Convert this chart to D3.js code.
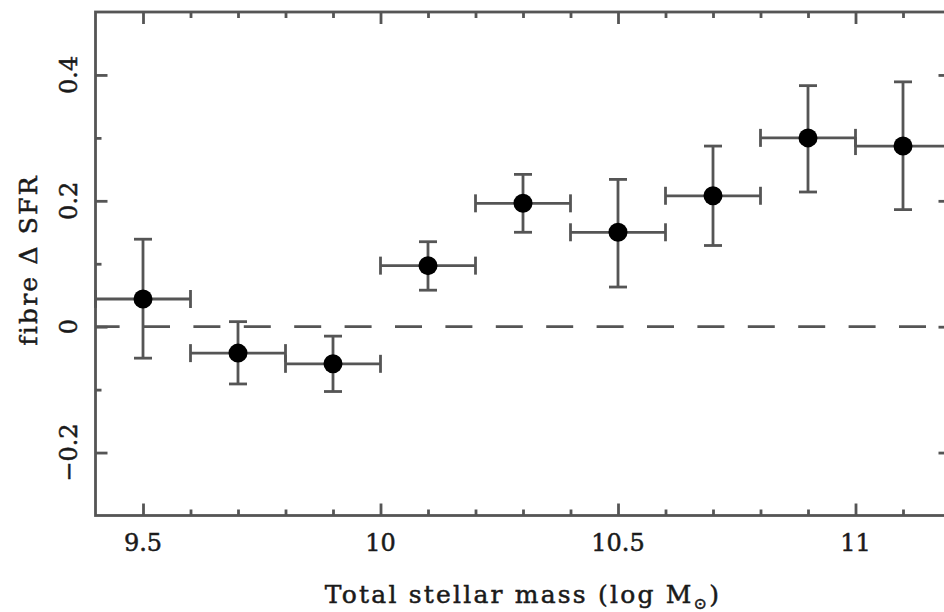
<!DOCTYPE html>
<html>
<head>
<meta charset="utf-8">
<script src="https://cdn.jsdelivr.net/npm/d3@7"></script>
<style>
  html, body { margin: 0; padding: 0; background: #fff; }
  svg { display: block; }
  text { font-family: "DejaVu Serif", serif; fill: #1a1a1a; stroke: #1a1a1a; stroke-width: 0.5px; }
</style>
</head>
<body>
<div id="chart"></div>
<script>
// valeurs
let masses = [9.5, 9.7, 9.9, 10.1, 10.3, 10.5, 10.7, 10.9, 11.1];
let deltaSfr = [0.044, -0.042, -0.059, 0.097, 0.196, 0.150, 0.208, 0.300, 0.287];
let errHaut = [0.139, 0.008, -0.015, 0.135, 0.242, 0.234, 0.287, 0.383, 0.389];
let errBas = [-0.050, -0.091, -0.103, 0.058, 0.150, 0.063, 0.129, 0.214, 0.186];
let demiLargeur = [0.1, 0.1, 0.1, 0.1, 0.1, 0.1, 0.1, 0.1, 0.1];

// graduations
let xMajeur = [9.5, 10, 10.5, 11];
let xMineur = [9.6, 9.7, 9.8, 9.9, 10.1, 10.2, 10.3, 10.4, 10.6, 10.7, 10.8, 10.9, 11.1];
let yMajeur = [-0.2, 0, 0.2, 0.4];
let yMineur = [-0.1, 0.1, 0.3];
let xLabels = ["9.5", "10", "10.5", "11"];
let yLabels = ["\u22120.2", "0", "0.2", "0.4"];

let width = 944;
let height = 612;

// bords du cadre (le bord droit sort de l'image)
let gauche = 95.5, droite = 950.5, haut = 12, bas = 515.5;

let x = d3.scaleLinear().domain([9.4, 11.2]).range([gauche, droite]);
let y = d3.scaleLinear().domain([-0.3, 0.5]).range([bas, haut]);

let svg = d3
  .select("#chart")
  .append("svg")
  .attr("width", width)
  .attr("height", height);

let gris = "#555";
let trait = 2.8;

// ligne zéro en tirets
svg
  .append("line")
  .attr("x1", gauche)
  .attr("x2", droite)
  .attr("y1", y(0))
  .attr("y2", y(0))
  .style("stroke", gris)
  .style("stroke-width", trait)
  .style("stroke-dasharray", "27,23.4")
  .style("stroke-dashoffset", 2.9);

// axes : graduations vers l'intérieur sur les quatre côtés
function styleAxe(g) {
  g.select(".domain").remove();
  g.selectAll(".tick line").style("stroke", gris).style("stroke-width", trait);
}

function ajouterAxe(axe, valeurs, taille, tx, ty) {
  let g = svg
    .append("g")
    .attr("transform", "translate(" + tx + "," + ty + ")")
    .call(axe.tickValues(valeurs).tickSize(taille).tickFormat(""));
  styleAxe(g);
  return g;
}

ajouterAxe(d3.axisBottom(x), xMajeur, -12, 0, bas);
ajouterAxe(d3.axisBottom(x), xMineur, -6, 0, bas);
ajouterAxe(d3.axisTop(x), xMajeur, -12, 0, haut);
ajouterAxe(d3.axisTop(x), xMineur, -6, 0, haut);
ajouterAxe(d3.axisLeft(y), yMajeur, -12, gauche, 0);
ajouterAxe(d3.axisLeft(y), yMineur, -6, gauche, 0);
ajouterAxe(d3.axisRight(y), yMajeur, -12, droite, 0);
ajouterAxe(d3.axisRight(y), yMineur, -6, droite, 0);

// cadre
svg
  .append("rect")
  .attr("x", gauche)
  .attr("y", haut)
  .attr("width", droite - gauche)
  .attr("height", bas - haut)
  .style("fill", "none")
  .style("stroke", gris)
  .style("stroke-width", trait);

// étiquettes des graduations
svg
  .selectAll(".xlab")
  .data(xMajeur)
  .enter()
  .append("text")
  .attr("class", "xlab")
  .attr("x", (d) => x(d))
  .attr("y", 551)
  .style("text-anchor", "middle")
  .style("font-size", "24px")
  .text((d, i) => xLabels[i]);

svg
  .selectAll(".ylab")
  .data(yMajeur)
  .enter()
  .append("text")
  .attr("class", "ylab")
  .attr("transform", (d) => "translate(77," + y(d) + ") rotate(-90)")
  .style("text-anchor", "middle")
  .style("font-size", "24px")
  .text((d, i) => yLabels[i]);

// titres des axes
let titreX = svg
  .append("text")
  .attr("x", (gauche + droite) / 2)
  .attr("y", 603)
  .style("text-anchor", "middle")
  .style("font-size", "25px")
  .style("letter-spacing", "2.2px");
titreX.append("tspan").text("Total stellar mass (log M");
titreX
  .append("tspan")
  .attr("dy", 6)
  .style("font-size", "16px")
  .text("\u2299");
titreX.append("tspan").attr("dy", -6).text(")");

svg
  .append("text")
  .attr("transform", "translate(37,260) rotate(-90)")
  .style("text-anchor", "middle")
  .style("font-size", "25px")
  .style("letter-spacing", "2.2px")
  .text("fibre \u0394 SFR");

// barres d'erreur
let cap = 9;
masses.forEach((m, i) => {
  let g = svg.append("g");
  let cx = x(m);
  let cy = y(deltaSfr[i]);
  let x0 = x(m - demiLargeur[i]);
  let x1 = x(m + demiLargeur[i]);
  let y0 = y(errBas[i]);
  let y1 = y(errHaut[i]);

  let segments = [
    [x0, cy, x1, cy],
    [x0, cy - cap, x0, cy + cap],
    [x1, cy - cap, x1, cy + cap],
    [cx, y0, cx, y1],
    [cx - cap, y0, cx + cap, y0],
    [cx - cap, y1, cx + cap, y1],
  ];
  segments.forEach((s) => {
    g.append("line")
      .attr("x1", s[0])
      .attr("y1", s[1])
      .attr("x2", s[2])
      .attr("y2", s[3])
      .style("stroke", gris)
      .style("stroke-width", trait);
  });

  g.append("circle")
    .attr("cx", cx)
    .attr("cy", cy)
    .attr("r", 9.5)
    .style("fill", "black");
});
</script>
</body>
</html>
